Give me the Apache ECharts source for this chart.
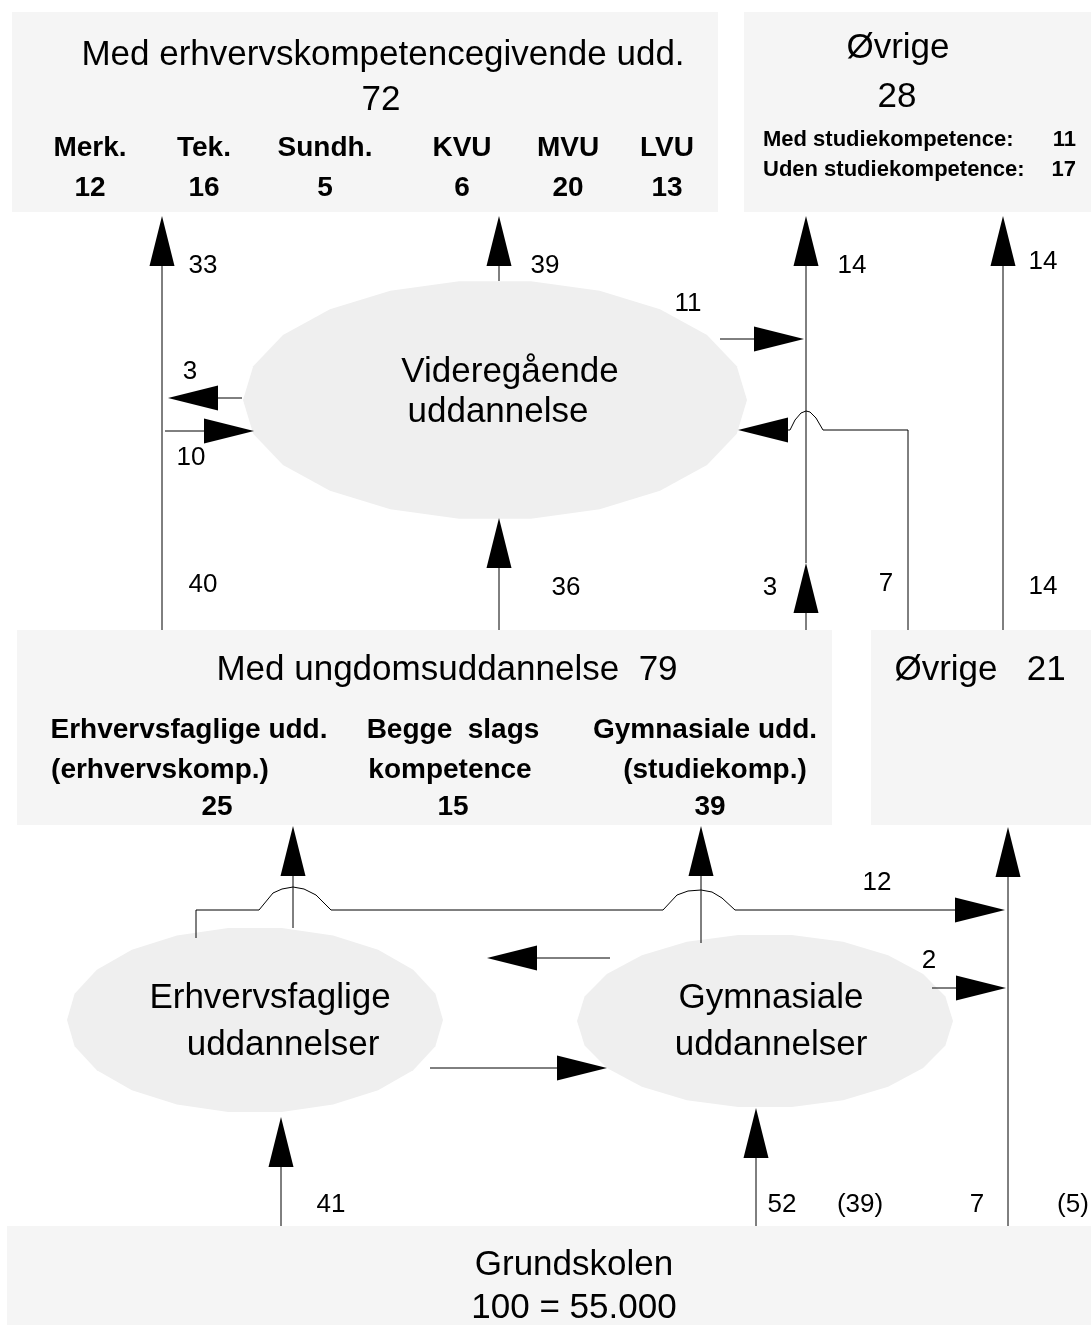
<!DOCTYPE html>
<html>
<head>
<meta charset="utf-8">
<title>Uddannelsesforløb</title>
<script src="https://cdn.jsdelivr.net/npm/echarts@6/dist/echarts.min.js"></script>
<style>
  html, body { margin: 0; padding: 0; background: #fff; }
  #chart { width: 1091px; height: 1330px; }
</style>
</head>
<body>
<div id="chart"></div>
<script>
// ---- data ----
const higherTitle = 'Med erhvervskompetencegivende udd.';
const higherTotal = 72;
const higherCategories = ['Merk.', 'Tek.', 'Sundh.', 'KVU', 'MVU', 'LVU'];
const higherValues = [12, 16, 5, 6, 20, 13];

const otherHigherTitle = 'Øvrige';
const otherHigherTotal = 28;
const otherHigherCategories = ['Med studiekompetence:', 'Uden studiekompetence:'];
const otherHigherValues = [11, 17];

const youthTitle = 'Med ungdomsuddannelse';
const youthTotal = 79;
const youthCategories = [
  ['Erhvervsfaglige udd.', '(erhvervskomp.)'],
  ['Begge  slags', 'kompetence'],
  ['Gymnasiale udd.', '(studiekomp.)']
];
const youthValues = [25, 15, 39];

const otherYouthTitle = 'Øvrige';
const otherYouthTotal = 21;

const schoolTitle = 'Grundskolen';
const schoolTotal = 100;
const schoolCount = '55.000';

const nodeNames = [
  ['Videregående', 'uddannelse'],
  ['Erhvervsfaglige', 'uddannelser'],
  ['Gymnasiale', 'uddannelser']
];

// flow sizes, same order as flowLabelPos below
const flowValues = [33, 39, 14, 14, 11, 3, 10, 40, 36, 3, 7, 14, 12, 2, 41, 52, 7];
const flowNotes = ['(39)', '(5)'];

// ---- layout (pixel-like units on hidden axes) ----
const W = 1091, H = 1330;
const boxRects = [
  [12, 12, 718, 212],
  [744, 12, 1091, 212],
  [17, 630, 832, 825],
  [871, 630, 1091, 825],
  [7, 1226, 1091, 1325]
];
const ellipseShapes = [
  [495, 400, 252, 120],
  [255, 1020, 188, 93],
  [765, 1021, 188, 87]
];
const arrowPaths = [
  [[162, 630], [162, 216]],
  [[499, 281], [499, 216]],
  [[499, 630], [499, 518]],
  [[806, 630], [806, 563]],
  [[806, 563], [806, 216]],
  [[1003, 630], [1003, 216]],
  [[720, 339], [804, 339]],
  [[242, 398], [168, 398]],
  [[165, 431], [254, 431]],
  [[908, 630], [908, 430], [823, 430], [816, 418], [810, 412], [806, 411], [801, 413], [795, 420], [790, 430], [738, 430]],
  [[293, 928], [293, 826]],
  [[701, 943], [701, 826]],
  [[196, 938], [196, 910], [259, 910], [273, 893], [282, 889], [293, 887], [304, 889], [316, 895], [331, 910],
   [663, 910], [677, 895], [688, 891], [701, 890], [712, 892], [722, 898], [735, 910], [1005, 910]],
  [[1008, 1226], [1008, 827]],
  [[932, 988], [1006, 988]],
  [[610, 958], [487, 958]],
  [[430, 1068], [607, 1068]],
  [[281, 1226], [281, 1117]],
  [[756, 1226], [756, 1108]]
];
const flowLabelPos = [
  [203, 266], [545, 266], [852, 266], [1043, 262], [688, 304], [190, 372], [191, 458],
  [203, 585], [566, 588], [770, 588], [886, 584], [1043, 587],
  [877, 883], [929, 961], [331, 1205], [782, 1205], [977, 1205]
];
const flowNotePos = [[860, 1205], [1073, 1205]];
const higherColX = [90, 204, 325, 462, 568, 667];
const youthLineX = [[189, 160, 217], [453, 450, 453], [705, 715, 710]];
const youthLineY = [730, 770, 807];
const nodeTextPos = [[[510, 372], [498, 412]], [[270, 998], [283, 1045]], [[771, 998], [771, 1045]]];

const FONT = "'Liberation Sans', Arial, Helvetica, sans-serif";
const BIG = 35, BOLD = 28, SMALL_BOLD = 22, FLOW = 26;

// ---- text items built from the data ----
const textItems = [];
function addText(x, y, text, size, bold, align) {
  textItems.push({ value: [x, y], text: String(text), size: size, bold: !!bold, align: align || 'center' });
}
addText(383, 55, higherTitle, BIG);
addText(381, 100, higherTotal, BIG);
higherCategories.forEach((c, i) => {
  addText(higherColX[i], 148, c, BOLD, true);
  addText(higherColX[i], 188, higherValues[i], BOLD, true);
});
addText(898, 48, otherHigherTitle, BIG);
addText(897, 97, otherHigherTotal, BIG);
otherHigherCategories.forEach((c, i) => {
  addText(763, 140 + i * 30, c, SMALL_BOLD, true, 'left');
  addText(1076, 140 + i * 30, otherHigherValues[i], SMALL_BOLD, true, 'right');
});
addText(447, 670, youthTitle + '  ' + youthTotal, BIG);
youthCategories.forEach((lines, i) => {
  addText(youthLineX[i][0], youthLineY[0], lines[0], BOLD, true);
  addText(youthLineX[i][1], youthLineY[1], lines[1], BOLD, true);
  addText(youthLineX[i][2], youthLineY[2], youthValues[i], BOLD, true);
});
addText(980, 670, otherYouthTitle + '   ' + otherYouthTotal, BIG);
addText(574, 1265, schoolTitle, BIG);
addText(574, 1308, schoolTotal + ' = ' + schoolCount, BIG);
nodeNames.forEach((lines, i) => {
  lines.forEach((l, j) => addText(nodeTextPos[i][j][0], nodeTextPos[i][j][1], l, BIG));
});
flowValues.forEach((v, i) => addText(flowLabelPos[i][0], flowLabelPos[i][1], v, FLOW));
flowNotes.forEach((v, i) => addText(flowNotePos[i][0], flowNotePos[i][1], v, FLOW));

// ---- chart ----
const chart = echarts.init(document.getElementById('chart'));

chart.setOption({
  backgroundColor: '#ffffff',
  animation: false,
  grid: { left: 0, right: 0, top: 0, bottom: 0 },
  xAxis: { type: 'value', min: 0, max: W, show: false },
  yAxis: { type: 'value', min: 0, max: H, inverse: true, show: false },
  series: [
    {
      type: 'custom',
      name: 'boxes',
      silent: true,
      data: boxRects,
      renderItem: (params, api) => {
        const p0 = api.coord([api.value(0), api.value(1)]);
        const p1 = api.coord([api.value(2), api.value(3)]);
        return {
          type: 'rect',
          shape: { x: p0[0], y: p0[1], width: p1[0] - p0[0], height: p1[1] - p0[1] },
          style: { fill: '#f5f5f5' }
        };
      }
    },
    {
      type: 'custom',
      name: 'ellipses',
      silent: true,
      data: ellipseShapes,
      renderItem: (params, api) => {
        const cx = api.value(0), cy = api.value(1), rx = api.value(2), ry = api.value(3);
        const pts = [];
        for (let k = 0; k < 22; k++) {
          const a = (k / 22) * Math.PI * 2;
          pts.push(api.coord([cx + rx * Math.cos(a), cy + ry * Math.sin(a)]));
        }
        return { type: 'polygon', shape: { points: pts }, style: { fill: '#efefef' } };
      }
    },
    {
      type: 'custom',
      name: 'flows',
      silent: true,
      data: arrowPaths.map((p, i) => [i]),
      renderItem: (params, api) => {
        const path = arrowPaths[api.value(0)].map(p => api.coord(p));
        const n = path.length;
        const tip = path[n - 1], prev = path[n - 2];
        const dx = tip[0] - prev[0], dy = tip[1] - prev[1];
        const len = Math.sqrt(dx * dx + dy * dy);
        const ux = dx / len, uy = dy / len;
        const headLen = 50, headHalf = 12.5;
        const bx = tip[0] - ux * headLen, by = tip[1] - uy * headLen;
        const line = path.slice(0, n - 1).concat([[bx, by]]);
        return {
          type: 'group',
          children: [
            {
              type: 'polyline',
              shape: { points: line },
              style: { stroke: '#000', lineWidth: 1, fill: null }
            },
            {
              type: 'polygon',
              shape: { points: [tip, [bx - uy * headHalf, by + ux * headHalf], [bx + uy * headHalf, by - ux * headHalf]] },
              style: { fill: '#000' }
            }
          ]
        };
      }
    },
    {
      type: 'custom',
      name: 'texts',
      silent: true,
      data: textItems,
      renderItem: (params, api) => {
        const item = textItems[params.dataIndex];
        const p = api.coord(item.value);
        return {
          type: 'text',
          x: p[0],
          y: p[1],
          style: {
            text: item.text,
            fontSize: item.size,
            fontWeight: item.bold ? 'bold' : 'normal',
            fontFamily: FONT,
            align: item.align,
            verticalAlign: 'middle',
            fill: '#000'
          }
        };
      }
    }
  ]
});
</script>
</body>
</html>
